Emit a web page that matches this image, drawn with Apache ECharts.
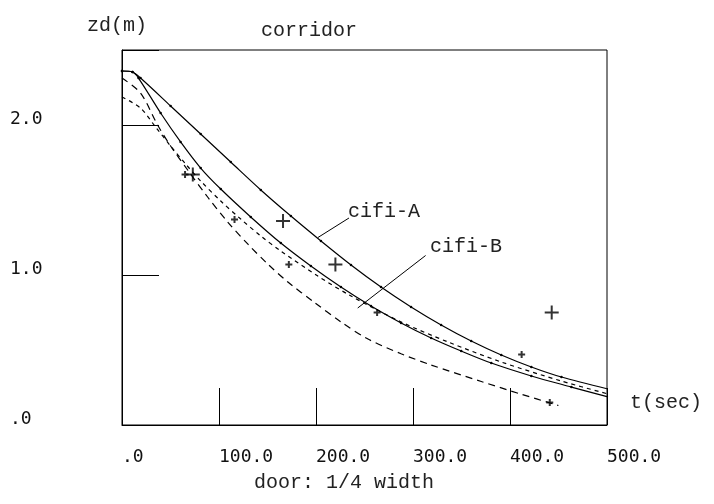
<!DOCTYPE html>
<html>
<head>
<meta charset="utf-8">
<script src="https://cdn.jsdelivr.net/npm/echarts@6/dist/echarts.min.js"></script>
<style>
  html, body { margin: 0; padding: 0; background: #fff; }
  #chart { width: 714px; height: 504px; }
</style>
</head>
<body>
<div id="chart"></div>
<script>
// cifi-A (upper solid)
const tA = [0, 10.8, 19.1, 50.1, 81.1, 112.1, 143.1, 174.1, 205.1, 236.1, 267, 298, 329, 360, 391, 422, 453, 501]
const zA = [2.36, 2.353, 2.313, 2.127, 1.94, 1.753, 1.567, 1.393, 1.227, 1.067, 0.92, 0.787, 0.667, 0.56, 0.467, 0.387, 0.32, 0.24]
// cifi-B (lower solid)
const tB = [0, 10.8, 17, 39.8, 60.4, 81.1, 101.8, 132.7, 163.7, 194.7, 225.7, 256.7, 287.7, 318.7, 349.7, 380.7, 422, 463.3, 501]
const zB = [2.36, 2.353, 2.313, 2.08, 1.887, 1.713, 1.573, 1.387, 1.213, 1.06, 0.92, 0.793, 0.68, 0.58, 0.493, 0.413, 0.327, 0.253, 0.187]
// long dashed
const tC = [0, 19.1, 36.7, 50.1, 67.7, 88.3, 109, 129.6, 150.3, 171, 197.8, 225.7, 253.6, 287.7, 318.7, 370.4, 411.7, 449.9]
const zC = [2.313, 2.213, 2.0, 1.86, 1.70, 1.52, 1.353, 1.207, 1.073, 0.953, 0.82, 0.687, 0.573, 0.475, 0.40, 0.29, 0.205, 0.13]
// short dashed
const tD = [0, 19.1, 34.6, 50.1, 65.6, 81.1, 101.8, 122.4, 143.1, 163.7, 201.9, 236.1, 287.7, 336.3, 391, 453, 501]
const zD = [2.187, 2.113, 1.987, 1.86, 1.74, 1.627, 1.493, 1.373, 1.26, 1.16, 0.993, 0.86, 0.687, 0.553, 0.42, 0.293, 0.207]
// measured points
const bigT = [73, 166, 220, 443]
const bigZ = [1.67, 1.36, 1.07, 0.75]
const smallT = [65, 116, 172, 263, 412, 441]
const smallZ = [1.67, 1.37, 1.07, 0.75, 0.47, 0.15]
// leader lines for the curve labels
const leaderA = [[202, 1.25], [234, 1.38]]
const leaderB = [[243, 0.78], [313, 1.13]]
// tick labels
const xTickLabels = ['.0', '100.0', '200.0', '300.0', '400.0', '500.0']
const yTickLabels = ['.0', '1.0', '2.0']

const zip = (xs, ys) => xs.map((x, i) => [x, ys[i]])

const numFont = { fontFamily: 'DejaVu Sans Mono', fontSize: 18, color: '#111' }
const textFont = { fontFamily: 'Liberation Mono', fontSize: 20, fill: '#222' }

const bigPlus = 'path://M6,0h2v6h6v2h-6v6h-2v-6h-6v-2h6z'
const smallPlus = 'path://M5,0h4v5h5v4h-5v5h-4v-5h-5v-4h5z'

const lineSeries = (data, type, dots) => ({
  type: 'line',
  data: data,
  smooth: 0.3,
  symbol: dots ? 'circle' : 'none',
  symbolSize: 2.5,
  itemStyle: { color: '#000' },
  lineStyle: { color: '#000', width: 1.2, type: type },
  silent: true,
  z: 3,
})

const leader = (pts) => ({
  silent: true,
  symbol: 'none',
  lineStyle: { color: '#000', width: 1, type: 'solid' },
  label: { show: false },
  data: [[{ coord: pts[0] }, { coord: pts[1] }]],
})

const chart = echarts.init(document.getElementById('chart'))

chart.setOption({
  animation: false,
  backgroundColor: '#fff',
  grid: {
    left: 122,
    top: 50,
    right: 107,
    bottom: 79,
    show: true,
    borderColor: '#000',
    borderWidth: 1,
  },
  xAxis: {
    type: 'value',
    min: 0,
    max: 500,
    interval: 100,
    axisLine: { lineStyle: { color: '#000', width: 1 } },
    axisTick: { inside: true, length: 37, lineStyle: { color: '#000', width: 1 } },
    splitLine: { show: false },
    axisLabel: {
      ...numFont,
      align: 'left',
      verticalAlign: 'middle',
      margin: 32,
      formatter: (v) => xTickLabels[Math.round(v / 100)] || '',
    },
  },
  yAxis: {
    type: 'value',
    min: 0,
    max: 2.5,
    interval: 1,
    axisLine: { lineStyle: { color: '#000', width: 1 } },
    axisTick: { inside: true, length: 37, lineStyle: { color: '#000', width: 1 } },
    splitLine: { show: false },
    axisLabel: {
      ...numFont,
      align: 'left',
      verticalAlign: 'bottom',
      lineHeight: 12,
      margin: 112,
      formatter: (v) => (Number.isInteger(v) ? yTickLabels[v] : ''),
    },
  },
  graphic: [
    { type: 'text', x: 117, y: 26, style: { text: 'zd(m)', ...textFont, textAlign: 'center', textVerticalAlign: 'middle' } },
    { type: 'text', x: 309, y: 31, style: { text: 'corridor', ...textFont, textAlign: 'center', textVerticalAlign: 'middle' } },
    { type: 'text', x: 630, y: 403, style: { text: 't(sec)', ...textFont, textAlign: 'left', textVerticalAlign: 'middle' } },
    { type: 'text', x: 344, y: 483, style: { text: 'door: 1/4 width', ...textFont, textAlign: 'center', textVerticalAlign: 'middle' } },
    { type: 'text', x: 348, y: 212, style: { text: 'cifi-A', ...textFont, textAlign: 'left', textVerticalAlign: 'middle' } },
    { type: 'text', x: 430, y: 247, style: { text: 'cifi-B', ...textFont, textAlign: 'left', textVerticalAlign: 'middle' } },
  ],
  series: [
    { ...lineSeries(zip(tA, zA), 'solid', true), markLine: leader(leaderA) },
    { ...lineSeries(zip(tB, zB), 'solid', true), markLine: leader(leaderB) },
    lineSeries(zip(tC, zC), [7, 5], false),
    lineSeries(zip(tD, zD), [4, 4], false),
    {
      type: 'scatter',
      data: zip(bigT, bigZ),
      symbol: bigPlus,
      symbolSize: 14,
      itemStyle: { color: '#000' },
      silent: true,
      z: 4,
    },
    {
      type: 'scatter',
      data: zip(smallT, smallZ),
      symbol: smallPlus,
      symbolSize: 7,
      itemStyle: { color: '#000' },
      silent: true,
      z: 4,
    },
  ],
})
</script>
</body>
</html>
